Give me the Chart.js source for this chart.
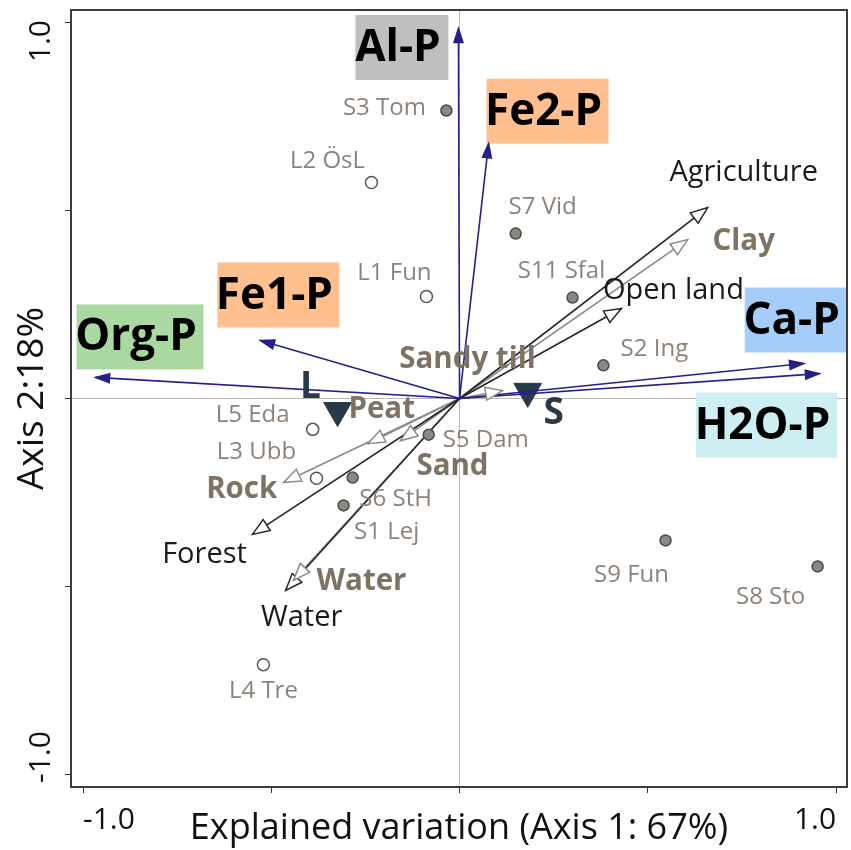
<!DOCTYPE html>
<html lang="en">
<head>
<meta charset="UTF-8">
<title>RDA biplot - P fractions</title>
<script src="https://cdn.jsdelivr.net/npm/chart.js"></script>
<style>
  html, body { margin: 0; padding: 0; background: #fff; }
  #wrap { width: 851px; height: 850px; }
</style>
</head>
<body>
<div id="wrap"><canvas id="biplot" width="851" height="850"></canvas></div>
<script>
// ---- data (axis units) ----
const siteNames = ['S1 Lej', 'S2 Ing', 'S3 Tom', 'S5 Dam', 'S6 StH', 'S7 Vid', 'S8 Sto', 'S9 Fun', 'S11 Sfal'];
const siteX = [-0.308, 0.382, -0.035, -0.082, -0.284, 0.149, 0.951, 0.547, 0.300];
const siteY = [-0.284, 0.088, 0.765, -0.096, -0.210, 0.438, -0.446, -0.377, 0.268];

const lakeNames = ['L1 Fun', 'L2 ÖsL', 'L3 Ubb', 'L4 Tre', 'L5 Eda'];
const lakeX = [-0.088, -0.234, -0.380, -0.521, -0.390];
const lakeY = [0.271, 0.574, -0.212, -0.707, -0.082];

const centroidNames = ['L', 'S'];
const centroidX = [-0.324, 0.181];
const centroidY = [-0.032, 0.019];

const pFractions = ['Al-P', 'Fe2-P', 'Fe1-P', 'Org-P', 'Ca-P', 'H2O-P'];
const pX = [-0.003, 0.077, -0.529, -0.967, 0.914, 0.956];
const pY = [0.983, 0.677, 0.154, 0.056, 0.093, 0.066];

const landUse = ['Agriculture', 'Open land', 'Forest', 'Water'];
const landX = [0.659, 0.430, -0.550, -0.462];
const landY = [0.507, 0.239, -0.361, -0.510];

const soilTypes = ['Clay', 'Sandy till', 'Peat', 'Sand', 'Rock', 'Water'];
const soilX = [0.606, 0.114, -0.244, -0.157, -0.467, -0.441];
const soilY = [0.422, 0.021, -0.120, -0.112, -0.223, -0.483];

const tickValues = [-1, -0.5, 0, 0.5, 1];
const tickLabelValues = [-1, 1];

// ---- label placement / styling (pixels, kept apart from the data) ----
const siteLabelOffsets = [[43, 27], [51, -16], [-62, -2], [57, 6], [43, 22], [27, -26], [-47, 31], [-34, 35], [-11, -26]];
const lakeLabelOffsets = [[-32, -23], [-44, -21], [-60, -26], [0, 27], [-60, -14]];
const centroidLabelOffsets = [[-27, -23], [26, 22]];
const landLabelOffsets = [[36, -35], [52, -18], [-48, 20], [16, 27]];
const soilLabelOffsets = [[56, 2], [-35, -31], [14, -34], [52, 26], [-42, 7], [68, 1]];
const pBoxOffsets = [[-56.5, 19], [59, -32.5], [18, -45.5], [44.5, -40.5], [-8, -43.5], [-53, 51.5]];
const pBoxWidths = [93, 122, 122, 127, 102, 141];
const pBoxColors = ['#bfbfbf', '#ffbf8f', '#ffbf8f', '#a9d8a1', '#a4cdfa', '#cdeef3'];

const FONT = "'Open Sans', 'Noto Sans', sans-serif";
const BLUE = '#25208c';
const LAND_COL = '#262626';
const SOIL_COL = '#8a8a8a';

Chart.defaults.font.family = FONT;

// build datasets
const datasets = [];
datasets.push({
    label: 'Sites',
    data: siteNames.map((n, i) => ({ x: siteX[i], y: siteY[i] })),
    pointRadius: 5.5, pointHoverRadius: 5.5,
    backgroundColor: '#8c877f', borderColor: '#4a4a4a', borderWidth: 1.5,
    names: siteNames, labelOffsets: siteLabelOffsets,
    labelFont: '24px ' + FONT, labelColor: '#8c8279'
});
datasets.push({
    label: 'Lakes',
    data: lakeNames.map((n, i) => ({ x: lakeX[i], y: lakeY[i] })),
    pointRadius: 6, pointHoverRadius: 6,
    backgroundColor: '#ffffff', borderColor: '#555555', borderWidth: 1.5,
    names: lakeNames, labelOffsets: lakeLabelOffsets,
    labelFont: '24px ' + FONT, labelColor: '#8c8279'
});

function arrowSet(names, xs, ys, color, head, offsets, font, textColor, group) {
    names.forEach(function (name, i) {
        datasets.push({
            label: name,
            data: [{ x: 0, y: 0 }, { x: xs[i], y: ys[i] }],
            showLine: true,
            borderColor: color, borderWidth: 1.6,
            pointRadius: 0, pointHoverRadius: 0,
            head: head, group: group, idx: i,
            names: [null, name], labelOffsets: [null, offsets[i]],
            labelFont: font, labelColor: textColor
        });
    });
}
arrowSet(pFractions, pX, pY, BLUE, 'filled', pBoxOffsets, 'bold 44px ' + FONT, '#000000', 'p');
arrowSet(landUse, landX, landY, LAND_COL, 'open', landLabelOffsets, '29px ' + FONT, '#1a1a1a', 'land');
arrowSet(soilTypes, soilX, soilY, SOIL_COL, 'open', soilLabelOffsets, 'bold 29.5px ' + FONT, '#7d7264', 'soil');

datasets.push({
    label: 'Centroids',
    data: centroidNames.map((n, i) => ({ x: centroidX[i], y: centroidY[i] })),
    pointStyle: 'triangle', rotation: 180,
    pointRadius: 16, pointHoverRadius: 16,
    backgroundColor: '#263a4a', borderColor: '#263a4a', borderWidth: 1,
    names: centroidNames, labelOffsets: centroidLabelOffsets,
    labelFont: 'bold 37px ' + FONT, labelColor: '#263a4a'
});

function drawHead(ctx, from, to, len, half, fill, stroke) {
    const ang = Math.atan2(to.y - from.y, to.x - from.x);
    const bx = to.x - len * Math.cos(ang), by = to.y - len * Math.sin(ang);
    const nx = -Math.sin(ang) * half, ny = Math.cos(ang) * half;
    ctx.beginPath();
    ctx.moveTo(to.x, to.y);
    ctx.lineTo(bx + nx, by + ny);
    ctx.lineTo(bx - nx, by - ny);
    ctx.closePath();
    ctx.fillStyle = fill;
    ctx.fill();
    ctx.lineWidth = 1.5;
    ctx.lineJoin = 'miter';
    ctx.strokeStyle = stroke;
    ctx.stroke();
}

const biplotDecor = {
    id: 'biplotDecor',
    beforeDatasetsDraw(chart) {
        // coloured boxes behind the P-fraction names
        const ctx = chart.ctx;
        ctx.save();
        chart.data.datasets.forEach(function (ds, i) {
            if (ds.group !== 'p') return;
            const tip = chart.getDatasetMeta(i).data[1];
            const off = pBoxOffsets[ds.idx];
            const w = pBoxWidths[ds.idx], h = 65;
            ctx.fillStyle = pBoxColors[ds.idx];
            ctx.fillRect(tip.x + off[0] - w / 2, tip.y + off[1] - h / 2, w, h);
        });
        ctx.restore();
    },
    afterDatasetsDraw(chart) {
        const ctx = chart.ctx;
        ctx.save();
        // arrow heads
        chart.data.datasets.forEach(function (ds, i) {
            if (!ds.head) return;
            const pts = chart.getDatasetMeta(i).data;
            if (ds.head === 'filled') {
                drawHead(ctx, pts[0], pts[1], 14, 4.5, ds.borderColor, ds.borderColor);
            } else {
                drawHead(ctx, pts[0], pts[1], 17, 6.5, '#ffffff', ds.borderColor);
            }
        });
        // text labels
        ctx.textAlign = 'center';
        ctx.textBaseline = 'middle';
        chart.data.datasets.forEach(function (ds, i) {
            if (!ds.names) return;
            const pts = chart.getDatasetMeta(i).data;
            ctx.font = ds.labelFont;
            ctx.fillStyle = ds.labelColor;
            ds.names.forEach(function (name, j) {
                if (!name) return;
                const off = ds.labelOffsets[j];
                let dx = off[0], dy = off[1];
                if (ds.group === 'p') { dx -= 4; dy += 1; }
                ctx.fillText(name, pts[j].x + dx, pts[j].y + dy);
            });
        });
        ctx.restore();
    },
    afterDraw(chart) {
        const ctx = chart.ctx;
        const a = chart.chartArea;
        ctx.save();
        // frame
        ctx.strokeStyle = '#3c3c3c';
        ctx.lineWidth = 2;
        ctx.strokeRect(a.left, a.top, a.right - a.left, a.bottom - a.top);
        // rotated y tick labels
        const ys = chart.scales.y;
        ctx.font = '30px ' + FONT;
        ctx.fillStyle = '#111111';
        ctx.textBaseline = 'middle';
        tickLabelValues.forEach(function (v) {
            const py = ys.getPixelForValue(v);
            ctx.save();
            ctx.translate(a.left - 30, v > 0 ? py - 2 : py + 8);
            ctx.rotate(-Math.PI / 2);
            ctx.textAlign = v > 0 ? 'right' : 'left';
            ctx.fillText(v.toFixed(1), 0, 0);
            ctx.restore();
        });
        ctx.restore();
    }
};

function zeroLine(ctx) {
    return ctx.tick && ctx.tick.value === 0 ? '#b9b9b9' : 'rgba(0,0,0,0)';
}

function fixBox(size) {
    return function (s) {
        if (s.isHorizontal()) { s.height = size; } else { s.width = size; }
        s.paddingLeft = 0; s.paddingRight = 0; s.paddingTop = 0; s.paddingBottom = 0;
    };
}

new Chart(document.getElementById('biplot'), {
    type: 'scatter',
    data: { datasets: datasets },
    options: {
        responsive: false,
        animation: false,
        devicePixelRatio: 1,
        layout: { autoPadding: false, padding: { top: 10, right: 4, left: 0, bottom: 0 } },
        plugins: { legend: { display: false }, tooltip: { enabled: false } },
        scales: {
            x: {
                type: 'linear', min: -1.032, max: 1.029,
                afterBuildTicks: function (s) { s.ticks = tickValues.map(v => ({ value: v })); },
                afterFit: fixBox(63),
                ticks: {
                    autoSkip: false, maxRotation: 0, align: 'inner', padding: 9,
                    color: '#111111', font: { size: 30 },
                    callback: v => (tickLabelValues.indexOf(v) >= 0 ? v.toFixed(1) : '')
                },
                grid: { color: zeroLine, tickColor: '#333333', tickLength: 6, lineWidth: 1 },
                border: { display: false },
                title: {
                    display: true, text: 'Explained variation (Axis 1: 67%)',
                    color: '#111111', font: { size: 36 }, padding: { top: 0, bottom: 0 }
                }
            },
            y: {
                type: 'linear', min: -1.032, max: 1.032,
                afterBuildTicks: function (s) { s.ticks = tickValues.map(v => ({ value: v })); },
                afterFit: fixBox(71),
                ticks: { autoSkip: false, callback: () => '' },
                grid: { color: zeroLine, tickColor: '#333333', tickLength: 6, lineWidth: 1 },
                border: { display: false },
                title: {
                    display: true, text: 'Axis 2:18%',
                    color: '#111111', font: { size: 37 }, padding: { top: 10, bottom: 0 }
                }
            }
        }
    },
    plugins: [biplotDecor]
});
</script>
</body>
</html>
